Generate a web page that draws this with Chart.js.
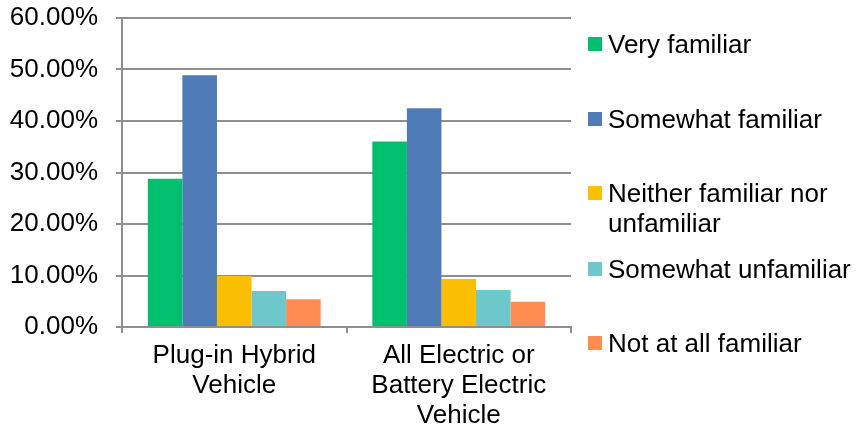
<!DOCTYPE html>
<html>
<head>
<meta charset="utf-8">
<script src="https://cdn.jsdelivr.net/npm/chart.js@4.4.1/dist/chart.umd.min.js"></script>
<style>
  body { margin: 0; background: #fff; }
  #wrap { position: relative; width: 859px; height: 432px; }
  #legend { position: absolute; left: 0; top: 0; font-family: 'Liberation Sans', Arial, sans-serif; font-size: 26px; line-height: 30px; color: #000; }
  .item { position: absolute; left: 608px; white-space: nowrap; }
  .box { position: absolute; left: -20px; top: 8px; width: 14px; height: 14px; }
</style>
</head>
<body>
<div id="wrap">
  <canvas id="chart" width="859" height="432"></canvas>
  <div id="legend"></div>
</div>
<script>
// Data
const categorias = [['Plug-in Hybrid', 'Vehicle'], ['All Electric or', 'Battery Electric', 'Vehicle']];
const series = ['Very familiar', 'Somewhat familiar', 'Neither familiar nor unfamiliar', 'Somewhat unfamiliar', 'Not at all familiar'];
const legendLines = [['Very familiar'], ['Somewhat familiar'], ['Neither familiar nor', 'unfamiliar'], ['Somewhat unfamiliar'], ['Not at all familiar']];
const veryFamiliar = [28.8, 36.0];
const somewhatFamiliar = [48.9, 42.5];
const neither = [9.9, 9.3];
const somewhatUnfamiliar = [7.0, 7.2];
const notAtAll = [5.4, 4.9];
const colores = ['#00BF6F', '#4F7CB6', '#F9BF00', '#6DC7CB', '#FF8C50'];

const valores = [veryFamiliar, somewhatFamiliar, neither, somewhatUnfamiliar, notAtAll];
const gris = '#8f8f8f';
const fuente = "'Liberation Sans', Arial, sans-serif";

const ctx = document.getElementById('chart').getContext('2d');
new Chart(ctx, {
    type: 'bar',
    data: {
        labels: categorias,
        datasets: series.map((s, i) => ({
            label: s,
            data: valores[i],
            backgroundColor: colores[i],
            categoryPercentage: 0.77,
            barPercentage: 1.0
        }))
    },
    options: {
        responsive: false,
        animation: false,
        layout: { padding: { left: 0, right: 288, top: 18, bottom: 0 } },
        plugins: {
            legend: { display: false },
            tooltip: { enabled: false }
        },
        scales: {
            x: {
                grid: { display: true, drawOnChartArea: false, drawTicks: true, tickLength: 6, color: gris, lineWidth: 2 },
                border: { display: true, color: gris, width: 2 },
                ticks: { color: '#000', padding: 8, font: { family: fuente, size: 26, lineHeight: 1.15 }, maxRotation: 0, autoSkip: false },
                afterFit: (scale) => { scale.height = 105; }
            },
            y: {
                min: 0,
                max: 60,
                grid: { color: gris, lineWidth: 2, drawTicks: true, tickLength: 6 },
                border: { display: true, color: gris, width: 2 },
                ticks: {
                    stepSize: 10,
                    color: '#000',
                    padding: 18,
                    font: { family: fuente, size: 26 },
                    callback: (v) => v.toFixed(2) + '%'
                },
                afterFit: (scale) => {
                    scale.width = 122;
                    scale.paddingTop = 0;
                    scale.paddingBottom = 0;
                }
            }
        }
    }
});

// Legend on the right, with the wrapped label
const tops = [29, 104, 178, 254, 328];
const legend = document.getElementById('legend');
legendLines.forEach((lines, i) => {
    const item = document.createElement('div');
    item.className = 'item';
    item.style.top = tops[i] + 'px';
    item.innerHTML = lines.join('<br>');
    const box = document.createElement('span');
    box.className = 'box';
    box.style.background = colores[i];
    item.appendChild(box);
    legend.appendChild(item);
});
</script>
</body>
</html>
